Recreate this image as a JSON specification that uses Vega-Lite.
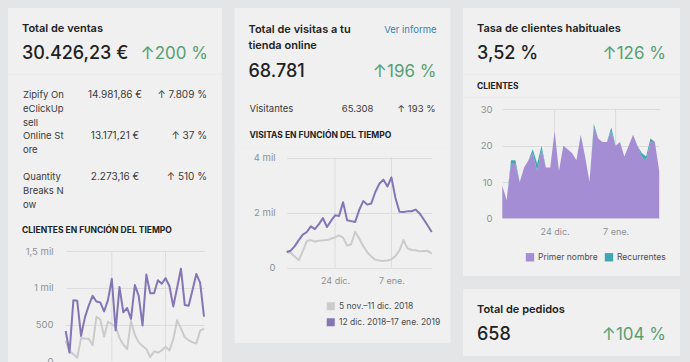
{
  "$schema": "https://vega.github.io/schema/vega-lite/v6.json",
  "background": "#e3e5e7",
  "padding": {"left": 8, "top": 8, "right": 10, "bottom": 0},
  "spacing": 12.5,
  "resolve": {"scale": {"color": "independent"}, "legend": {"color": "independent"}},
  "datasets": {
    "clientes": [
      {"fecha": "2018-12-12T00:00", "actual": 415, "anterior": 280},
      {"fecha": "2018-12-13T00:00", "actual": 120, "anterior": 134},
      {"fecha": "2018-12-14T00:00", "actual": 834, "anterior": 100},
      {"fecha": "2018-12-15T00:00", "actual": 825, "anterior": 50},
      {"fecha": "2018-12-16T00:00", "actual": 348, "anterior": 320},
      {"fecha": "2018-12-17T00:00", "actual": 600, "anterior": 310},
      {"fecha": "2018-12-18T00:00", "actual": 760, "anterior": 310},
      {"fecha": "2018-12-19T00:00", "actual": 892, "anterior": 220},
      {"fecha": "2018-12-20T00:00", "actual": 816, "anterior": 610},
      {"fecha": "2018-12-21T00:00", "actual": 803, "anterior": 570},
      {"fecha": "2018-12-22T00:00", "actual": 682, "anterior": 340},
      {"fecha": "2018-12-23T00:00", "actual": 834, "anterior": 540},
      {"fecha": "2018-12-24T00:00", "actual": 1124, "anterior": 510},
      {"fecha": "2018-12-25T00:00", "actual": 424, "anterior": 470},
      {"fecha": "2018-12-26T00:00", "actual": 1012, "anterior": 320},
      {"fecha": "2018-12-27T00:00", "actual": 669, "anterior": 230},
      {"fecha": "2018-12-28T00:00", "actual": 727, "anterior": 170},
      {"fecha": "2018-12-29T00:00", "actual": 580, "anterior": 550},
      {"fecha": "2018-12-30T00:00", "actual": 1039, "anterior": 360},
      {"fecha": "2018-12-31T00:00", "actual": 892, "anterior": 260},
      {"fecha": "2019-01-01T00:00", "actual": 491, "anterior": 210},
      {"fecha": "2019-01-02T00:00", "actual": 1182, "anterior": 170},
      {"fecha": "2019-01-03T00:00", "actual": 928, "anterior": 60},
      {"fecha": "2019-01-04T00:00", "actual": 928, "anterior": 140},
      {"fecha": "2019-01-05T00:00", "actual": 1106, "anterior": 120},
      {"fecha": "2019-01-06T00:00", "actual": 1057, "anterior": 150},
      {"fecha": "2019-01-07T00:00", "actual": 1133, "anterior": 200},
      {"fecha": "2019-01-08T00:00", "actual": 1026, "anterior": 150},
      {"fecha": "2019-01-09T00:00", "actual": 749, "anterior": 300},
      {"fecha": "2019-01-10T00:00", "actual": 1003, "anterior": 560},
      {"fecha": "2019-01-11T00:00", "actual": 1262, "anterior": 450},
      {"fecha": "2019-01-12T00:00", "actual": 767, "anterior": 330},
      {"fecha": "2019-01-13T00:00", "actual": 758, "anterior": 290},
      {"fecha": "2019-01-14T00:00", "actual": 968, "anterior": 260},
      {"fecha": "2019-01-15T00:00", "actual": 1191, "anterior": 245},
      {"fecha": "2019-01-16T00:00", "actual": 1070, "anterior": 420},
      {"fecha": "2019-01-17T00:00", "actual": 611, "anterior": 446}
    ],
    "visitas": [
      {"fecha": "2018-12-12T00:00", "actual": 567, "anterior": 567},
      {"fecha": "2018-12-13T00:00", "actual": 615, "anterior": 530},
      {"fecha": "2018-12-14T00:00", "actual": 780, "anterior": 400},
      {"fecha": "2018-12-15T00:00", "actual": 1000, "anterior": 270},
      {"fecha": "2018-12-16T00:00", "actual": 1200, "anterior": 600},
      {"fecha": "2018-12-17T00:00", "actual": 1295, "anterior": 970},
      {"fecha": "2018-12-18T00:00", "actual": 1500, "anterior": 1000},
      {"fecha": "2018-12-19T00:00", "actual": 1400, "anterior": 950},
      {"fecha": "2018-12-20T00:00", "actual": 1580, "anterior": 980},
      {"fecha": "2018-12-21T00:00", "actual": 1800, "anterior": 990},
      {"fecha": "2018-12-22T00:00", "actual": 1476, "anterior": 1000},
      {"fecha": "2018-12-23T00:00", "actual": 1700, "anterior": 1050},
      {"fecha": "2018-12-24T00:00", "actual": 1900, "anterior": 1100},
      {"fecha": "2018-12-25T00:00", "actual": 1880, "anterior": 1170},
      {"fecha": "2018-12-26T00:00", "actual": 2380, "anterior": 1090},
      {"fecha": "2018-12-27T00:00", "actual": 1720, "anterior": 800},
      {"fecha": "2018-12-28T00:00", "actual": 1690, "anterior": 851},
      {"fecha": "2018-12-29T00:00", "actual": 1660, "anterior": 1300},
      {"fecha": "2018-12-30T00:00", "actual": 2100, "anterior": 1060},
      {"fecha": "2018-12-31T00:00", "actual": 2420, "anterior": 780},
      {"fecha": "2019-01-01T00:00", "actual": 2290, "anterior": 560},
      {"fecha": "2019-01-02T00:00", "actual": 2330, "anterior": 400},
      {"fecha": "2019-01-03T00:00", "actual": 2750, "anterior": 290},
      {"fecha": "2019-01-04T00:00", "actual": 3050, "anterior": 260},
      {"fecha": "2019-01-05T00:00", "actual": 3200, "anterior": 240},
      {"fecha": "2019-01-06T00:00", "actual": 2950, "anterior": 260},
      {"fecha": "2019-01-07T00:00", "actual": 3280, "anterior": 300},
      {"fecha": "2019-01-08T00:00", "actual": 2530, "anterior": 420},
      {"fecha": "2019-01-09T00:00", "actual": 2030, "anterior": 630},
      {"fecha": "2019-01-10T00:00", "actual": 2020, "anterior": 1000},
      {"fecha": "2019-01-11T00:00", "actual": 2045, "anterior": 700},
      {"fecha": "2019-01-12T00:00", "actual": 2050, "anterior": 640},
      {"fecha": "2019-01-13T00:00", "actual": 2110, "anterior": 630},
      {"fecha": "2019-01-14T00:00", "actual": 1970, "anterior": 590},
      {"fecha": "2019-01-15T00:00", "actual": 1760, "anterior": 600},
      {"fecha": "2019-01-16T00:00", "actual": 1530, "anterior": 610},
      {"fecha": "2019-01-17T00:00", "actual": 1295, "anterior": 510}
    ],
    "habituales": [
      {"fecha": "2018-12-12T00:00", "Primer nombre": 9, "Recurrentes": 0},
      {"fecha": "2018-12-13T00:00", "Primer nombre": 5, "Recurrentes": 0},
      {"fecha": "2018-12-14T00:00", "Primer nombre": 15, "Recurrentes": 1},
      {"fecha": "2018-12-15T00:00", "Primer nombre": 15, "Recurrentes": 1},
      {"fecha": "2018-12-16T00:00", "Primer nombre": 10, "Recurrentes": 0},
      {"fecha": "2018-12-17T00:00", "Primer nombre": 14, "Recurrentes": 0},
      {"fecha": "2018-12-18T00:00", "Primer nombre": 16, "Recurrentes": 0},
      {"fecha": "2018-12-19T00:00", "Primer nombre": 18, "Recurrentes": 1},
      {"fecha": "2018-12-20T00:00", "Primer nombre": 13, "Recurrentes": 2},
      {"fecha": "2018-12-21T00:00", "Primer nombre": 19, "Recurrentes": 1},
      {"fecha": "2018-12-22T00:00", "Primer nombre": 14, "Recurrentes": 0},
      {"fecha": "2018-12-23T00:00", "Primer nombre": 14, "Recurrentes": 0},
      {"fecha": "2018-12-24T00:00", "Primer nombre": 24, "Recurrentes": 0},
      {"fecha": "2018-12-25T00:00", "Primer nombre": 13, "Recurrentes": 0},
      {"fecha": "2018-12-26T00:00", "Primer nombre": 20, "Recurrentes": 0},
      {"fecha": "2018-12-27T00:00", "Primer nombre": 19, "Recurrentes": 0},
      {"fecha": "2018-12-28T00:00", "Primer nombre": 18, "Recurrentes": 0},
      {"fecha": "2018-12-29T00:00", "Primer nombre": 16, "Recurrentes": 0},
      {"fecha": "2018-12-30T00:00", "Primer nombre": 23, "Recurrentes": 0},
      {"fecha": "2018-12-31T00:00", "Primer nombre": 17, "Recurrentes": 0},
      {"fecha": "2019-01-01T00:00", "Primer nombre": 10, "Recurrentes": 0},
      {"fecha": "2019-01-02T00:00", "Primer nombre": 25, "Recurrentes": 1},
      {"fecha": "2019-01-03T00:00", "Primer nombre": 22, "Recurrentes": 0},
      {"fecha": "2019-01-04T00:00", "Primer nombre": 21, "Recurrentes": 0},
      {"fecha": "2019-01-05T00:00", "Primer nombre": 21, "Recurrentes": 0},
      {"fecha": "2019-01-06T00:00", "Primer nombre": 24, "Recurrentes": 1},
      {"fecha": "2019-01-07T00:00", "Primer nombre": 20, "Recurrentes": 0},
      {"fecha": "2019-01-08T00:00", "Primer nombre": 21, "Recurrentes": 0},
      {"fecha": "2019-01-09T00:00", "Primer nombre": 17, "Recurrentes": 0},
      {"fecha": "2019-01-10T00:00", "Primer nombre": 20, "Recurrentes": 0},
      {"fecha": "2019-01-11T00:00", "Primer nombre": 23, "Recurrentes": 0},
      {"fecha": "2019-01-12T00:00", "Primer nombre": 20, "Recurrentes": 0},
      {"fecha": "2019-01-13T00:00", "Primer nombre": 17, "Recurrentes": 1},
      {"fecha": "2019-01-14T00:00", "Primer nombre": 16, "Recurrentes": 1},
      {"fecha": "2019-01-15T00:00", "Primer nombre": 21, "Recurrentes": 1},
      {"fecha": "2019-01-16T00:00", "Primer nombre": 21, "Recurrentes": 0},
      {"fecha": "2019-01-17T00:00", "Primer nombre": 13, "Recurrentes": 0}
    ],
    "marcas": [
      {"fecha": "2018-12-24T00:00"},
      {"fecha": "2019-01-07T00:00"}
    ]
  },
  "hconcat": [
    {
      "vconcat": [
        {
          "width": 214, "height": 66.5,
          "data": {"values": [{"metrica": "Total de ventas", "valor": "30.426,23 €", "cambio": "↑200 %"}]},
          "layer": [
            {"mark": {"type": "text", "align": "left", "baseline": "middle", "fontSize": 11, "fontWeight": 600, "color": "#202223"},
             "encoding": {
               "x": {"datum": "izq", "type": "nominal", "scale": {"type": "point", "domain": ["izq", "der"], "padding": 0.0753}, "axis": null},
               "y": {"datum": "titulo", "type": "nominal", "scale": {"type": "point", "domain": ["titulo", "kpi"], "padding": 0.857}, "axis": null},
               "text": {"field": "metrica"}}},
            {"mark": {"type": "text", "align": "left", "baseline": "middle", "fontSize": 18, "fontWeight": 500, "color": "#202223"},
             "encoding": {
               "x": {"datum": "izq", "type": "nominal", "scale": {"type": "point", "domain": ["izq", "der"], "padding": 0.0753}, "axis": null},
               "y": {"datum": "kpi", "type": "nominal", "scale": {"type": "point", "domain": ["titulo", "kpi"], "padding": 0.857}, "axis": null},
               "text": {"field": "valor"}}},
            {"mark": {"type": "text", "align": "right", "baseline": "middle", "fontSize": 17, "color": "#56a072"},
             "encoding": {
               "x": {"datum": "der", "type": "nominal", "scale": {"type": "point", "domain": ["izq", "der"], "padding": 0.0753}, "axis": null},
               "y": {"datum": "kpi", "type": "nominal", "scale": {"type": "point", "domain": ["titulo", "kpi"], "padding": 0.857}, "axis": null},
               "text": {"field": "cambio"}}}
          ]
        },
        {
          "width": 214, "height": 145,
          "data": {"values": [
            {"canal": "Zipify On\neClickUp\nsell", "ventas": "14.981,86 €", "cambio": "↑ 7.809 %"},
            {"canal": "Online St\nore", "ventas": "13.171,21 €", "cambio": "↑ 37 %"},
            {"canal": "Quantity\nBreaks N\now", "ventas": "2.273,16 €", "cambio": "↑ 510 %"}
          ]},
          "encoding": {
            "y": {"field": "canal", "type": "nominal", "sort": null, "bandPosition": 0, "scale": {"type": "band", "paddingInner": 0.2043, "paddingOuter": 0.3555}, "axis": null}
          },
          "layer": [
            {"mark": {"type": "text", "align": "left", "baseline": "top", "fontSize": 9.5, "lineHeight": 14, "lineBreak": "\n", "color": "#3a3a3a"},
             "encoding": {
               "x": {"datum": "canal", "type": "nominal", "scale": {"type": "point", "domain": ["canal", "ventas", "cambio"], "padding": 0.163}, "axis": null},
               "text": {"field": "canal"}}},
            {"mark": {"type": "text", "align": "center", "baseline": "top", "fontSize": 10, "color": "#3a3a3a"},
             "encoding": {
               "x": {"datum": "ventas", "type": "nominal", "scale": {"type": "point", "domain": ["canal", "ventas", "cambio"], "padding": 0.163}, "axis": null},
               "text": {"field": "ventas"}}},
            {"mark": {"type": "text", "align": "right", "baseline": "top", "fontSize": 10, "color": "#3a3a3a"},
             "encoding": {
               "x": {"datum": "cambio", "type": "nominal", "scale": {"type": "point", "domain": ["canal", "ventas", "cambio"], "padding": 0.163}, "axis": null},
               "text": {"field": "cambio"}}}
          ]
        },
        {
          "width": 214, "height": 19,
          "data": {"values": [{"seccion": "CLIENTES EN FUNCIÓN DEL TIEMPO"}]},
          "mark": {"type": "text", "align": "left", "baseline": "middle", "fontSize": 8.5, "fontWeight": 700, "color": "#202223"},
          "encoding": {
            "x": {"datum": "izq", "type": "nominal", "scale": {"type": "point", "domain": ["izq", "der"], "padding": 0.0753}, "axis": null},
            "text": {"field": "seccion"}
          }
        },
        {
          "width": 214, "height": 123.5,
          "layer": [
            {"data": {"name": "marcas"},
             "mark": {"type": "rule", "color": "#dcdcdc", "strokeWidth": 1},
             "encoding": {
               "x": {"field": "fecha", "type": "temporal", "scale": {"domain": [{"year": 2018, "month": 12, "date": 12}, {"year": 2019, "month": 1, "date": 17}], "range": [57.7, 196]}, "axis": null},
               "y": {"datum": 0, "type": "quantitative", "scale": {"domain": [0, 1500], "range": [122.5, 12.2], "nice": false}},
               "y2": {"datum": 1500}
             }},
            {"data": {"name": "clientes"},
             "transform": [{"fold": ["anterior", "actual"], "as": ["periodo", "clientes"]}],
             "mark": {"type": "line", "strokeJoin": "round"},
             "encoding": {
               "x": {"field": "fecha", "type": "temporal", "scale": {"domain": [{"year": 2018, "month": 12, "date": 12}, {"year": 2019, "month": 1, "date": 17}], "range": [57.7, 196]}, "axis": null},
               "y": {"field": "clientes", "type": "quantitative", "scale": {"domain": [0, 1500], "range": [122.5, 12.2], "nice": false},
                     "axis": {"values": [0, 500, 1000, 1500], "offset": -45, "grid": true, "title": null,
                              "labelExpr": "datum.value >= 1000 ? replace(format(datum.value / 1000, '~g'), '.', ',') + ' mil' : format(datum.value, 'd')"}},
               "color": {"field": "periodo", "type": "nominal", "scale": {"domain": ["anterior", "actual"], "range": ["#cbcbcb", "#8475b5"]}, "legend": null},
               "strokeWidth": {"value": 2}
             }}
          ]
        }
      ],
      "spacing": 0,
      "bounds": "flush",
      "resolve": {"scale": {"color": "independent"}, "legend": {"color": "independent"}}
    },
    {
      "vconcat": [
        {
          "vconcat": [
            {
              "width": 216, "height": 94,
              "data": {"values": [{"metrica": "Total de visitas a tu\ntienda online", "enlace": "Ver informe", "valor": "68.781", "cambio": "↑196 %"}]},
              "layer": [
                {"mark": {"type": "text", "align": "left", "baseline": "alphabetic", "fontSize": 11, "fontWeight": 600, "lineHeight": 16, "lineBreak": "\n", "color": "#202223"},
                 "encoding": {
                   "x": {"datum": "izq", "type": "nominal", "scale": {"type": "point", "domain": ["izq", "der"], "padding": 0.0745}, "axis": null},
                   "y": {"datum": "titulo", "type": "nominal", "scale": {"type": "point", "domain": ["titulo", "kpi"], "padding": 0.583}, "axis": null},
                   "text": {"field": "metrica"}}},
                {"mark": {"type": "text", "align": "right", "baseline": "alphabetic", "fontSize": 9.5, "color": "#3b7fb6"},
                 "encoding": {
                   "x": {"datum": "der", "type": "nominal", "scale": {"type": "point", "domain": ["izq", "der"], "padding": 0.0745}, "axis": null},
                   "y": {"datum": "titulo", "type": "nominal", "scale": {"type": "point", "domain": ["titulo", "kpi"], "padding": 0.583}, "axis": null},
                   "text": {"field": "enlace"}}},
                {"mark": {"type": "text", "align": "left", "baseline": "alphabetic", "fontSize": 18, "fontWeight": 500, "color": "#202223"},
                 "encoding": {
                   "x": {"datum": "izq", "type": "nominal", "scale": {"type": "point", "domain": ["izq", "der"], "padding": 0.0745}, "axis": null},
                   "y": {"datum": "kpi", "type": "nominal", "scale": {"type": "point", "domain": ["titulo", "kpi"], "padding": 0.583}, "axis": null},
                   "text": {"field": "valor"}}},
                {"mark": {"type": "text", "align": "right", "baseline": "alphabetic", "fontSize": 17, "color": "#56a072"},
                 "encoding": {
                   "x": {"datum": "der", "type": "nominal", "scale": {"type": "point", "domain": ["izq", "der"], "padding": 0.0745}, "axis": null},
                   "y": {"datum": "kpi", "type": "nominal", "scale": {"type": "point", "domain": ["titulo", "kpi"], "padding": 0.583}, "axis": null},
                   "text": {"field": "cambio"}}}
              ]
            },
            {
              "width": 216, "height": 45.7,
              "data": {"values": [{"metrica": "Visitantes", "valor": "65.308", "cambio": "↑ 193 %", "seccion": "VISITAS EN FUNCIÓN DEL TIEMPO"}]},
              "layer": [
                {"mark": {"type": "text", "align": "left", "baseline": "alphabetic", "fontSize": 9.5, "color": "#3a3a3a"},
                 "encoding": {
                   "x": {"datum": "etiqueta", "type": "nominal", "scale": {"type": "point", "domain": ["etiqueta", "espacio", "valor", "cambio"], "padding": 0.242}, "axis": null},
                   "y": {"datum": "fila", "type": "nominal", "scale": {"type": "point", "domain": ["fila", "seccion"], "padding": 0.369}, "axis": null},
                   "text": {"field": "metrica"}}},
                {"mark": {"type": "text", "align": "right", "baseline": "alphabetic", "fontSize": 9.5, "color": "#3a3a3a"},
                 "encoding": {
                   "x": {"datum": "valor", "type": "nominal", "scale": {"type": "point", "domain": ["etiqueta", "espacio", "valor", "cambio"], "padding": 0.242}, "axis": null},
                   "y": {"datum": "fila", "type": "nominal", "scale": {"type": "point", "domain": ["fila", "seccion"], "padding": 0.369}, "axis": null},
                   "text": {"field": "valor"}}},
                {"mark": {"type": "text", "align": "right", "baseline": "alphabetic", "fontSize": 9.5, "color": "#3a3a3a"},
                 "encoding": {
                   "x": {"datum": "cambio", "type": "nominal", "scale": {"type": "point", "domain": ["etiqueta", "espacio", "valor", "cambio"], "padding": 0.242}, "axis": null},
                   "y": {"datum": "fila", "type": "nominal", "scale": {"type": "point", "domain": ["fila", "seccion"], "padding": 0.369}, "axis": null},
                   "text": {"field": "cambio"}}},
                {"mark": {"type": "text", "align": "left", "baseline": "alphabetic", "fontSize": 8.5, "fontWeight": 700, "color": "#202223"},
                 "encoding": {
                   "x": {"datum": "etiqueta", "type": "nominal", "scale": {"type": "point", "domain": ["etiqueta", "espacio", "valor", "cambio"], "padding": 0.242}, "axis": null},
                   "y": {"datum": "seccion", "type": "nominal", "scale": {"type": "point", "domain": ["fila", "seccion"], "padding": 0.369}, "axis": null},
                   "text": {"field": "seccion"}}}
              ]
            },
            {
              "width": 216, "height": 195.3,
              "layer": [
                {"data": {"name": "marcas"},
                 "mark": {"type": "rule", "color": "#dcdcdc", "strokeWidth": 1},
                 "encoding": {
                   "x": {"field": "fecha", "type": "temporal", "scale": {"domain": [{"year": 2018, "month": 12, "date": 12}, {"year": 2019, "month": 1, "date": 17}], "range": [52.2, 197.2]}},
                   "y": {"datum": 0, "type": "quantitative", "scale": {"domain": [0, 4000], "range": [119.6, 9.6], "nice": false}},
                   "y2": {"datum": 4000}
                 }},
                {"data": {"name": "visitas"},
                 "transform": [{"fold": ["anterior", "actual"], "as": ["periodo", "visitas"]}],
                 "mark": {"type": "line", "strokeJoin": "round"},
                 "encoding": {
                   "x": {"field": "fecha", "type": "temporal", "scale": {"domain": [{"year": 2018, "month": 12, "date": 12}, {"year": 2019, "month": 1, "date": 17}], "range": [52.2, 197.2]},
                         "axis": {"values": [{"year": 2018, "month": 12, "date": 24}, {"year": 2019, "month": 1, "date": 7}], "offset": -75.7, "labelPadding": 8.5, "labelFontSize": 9, "grid": false, "title": null,
                                  "labelExpr": "date(datum.value) + ' ' + ['ene.','feb.','mar.','abr.','may.','jun.','jul.','ago.','sep.','oct.','nov.','dic.'][month(datum.value)]"}},
                   "y": {"field": "visitas", "type": "quantitative", "scale": {"domain": [0, 4000], "range": [119.6, 9.6], "nice": false},
                         "axis": {"values": [0, 2000, 4000], "offset": -40.5, "grid": true, "title": null,
                                  "labelExpr": "datum.value >= 1000 ? replace(format(datum.value / 1000, '~g'), '.', ',') + ' mil' : format(datum.value, 'd')"}},
                   "color": {"field": "periodo", "type": "nominal", "scale": {"domain": ["anterior", "actual"], "range": ["#cbcbcb", "#8475b5"]},
                             "legend": {"orient": "bottom-right", "offset": 10, "direction": "vertical", "title": null, "symbolType": "square", "symbolSize": 16, "symbolStrokeWidth": 4,
                                        "labelFontSize": 8.5, "labelColor": "#4a4d50", "rowPadding": -5, "labelOffset": 4, "padding": 0, "labelLimit": 250,
                                        "labelExpr": "datum.label == 'anterior' ? '5 nov.–11 dic. 2018' : '12 dic. 2018–17 ene. 2019'"}},
                   "strokeWidth": {"value": 2}
                 }}
              ]
            }
          ],
          "spacing": 0,
          "bounds": "flush",
          "resolve": {"scale": {"color": "independent"}, "legend": {"color": "independent"}}
        },
        {
          "width": 216, "height": 10,
          "data": {"values": []},
          "mark": "text",
          "encoding": {}
        }
      ],
      "spacing": 9,
      "resolve": {"scale": {"color": "independent"}, "legend": {"color": "independent"}}
    },
    {
      "vconcat": [
        {
          "vconcat": [
            {
              "width": 217, "height": 66.5,
              "data": {"values": [{"metrica": "Tasa de clientes habituales", "valor": "3,52 %", "cambio": "↑126 %"}]},
              "layer": [
                {"mark": {"type": "text", "align": "left", "baseline": "middle", "fontSize": 11, "fontWeight": 600, "color": "#202223"},
                 "encoding": {
                   "x": {"datum": "izq", "type": "nominal", "scale": {"type": "point", "domain": ["izq", "der"], "padding": 0.0741}, "axis": null},
                   "y": {"datum": "titulo", "type": "nominal", "scale": {"type": "point", "domain": ["titulo", "kpi"], "padding": 0.857}, "axis": null},
                   "text": {"field": "metrica"}}},
                {"mark": {"type": "text", "align": "left", "baseline": "middle", "fontSize": 18, "fontWeight": 500, "color": "#202223"},
                 "encoding": {
                   "x": {"datum": "izq", "type": "nominal", "scale": {"type": "point", "domain": ["izq", "der"], "padding": 0.0741}, "axis": null},
                   "y": {"datum": "kpi", "type": "nominal", "scale": {"type": "point", "domain": ["titulo", "kpi"], "padding": 0.857}, "axis": null},
                   "text": {"field": "valor"}}},
                {"mark": {"type": "text", "align": "right", "baseline": "middle", "fontSize": 17, "color": "#56a072"},
                 "encoding": {
                   "x": {"datum": "der", "type": "nominal", "scale": {"type": "point", "domain": ["izq", "der"], "padding": 0.0741}, "axis": null},
                   "y": {"datum": "kpi", "type": "nominal", "scale": {"type": "point", "domain": ["titulo", "kpi"], "padding": 0.857}, "axis": null},
                   "text": {"field": "cambio"}}}
              ]
            },
            {
              "width": 217, "height": 22.5,
              "data": {"values": [{"seccion": "CLIENTES"}]},
              "mark": {"type": "text", "align": "left", "baseline": "middle", "fontSize": 8.5, "fontWeight": 700, "color": "#202223"},
              "encoding": {
                "x": {"datum": "izq", "type": "nominal", "scale": {"type": "point", "domain": ["izq", "der"], "padding": 0.0741}, "axis": null},
                "text": {"field": "seccion"}
              }
            },
            {
              "width": 217, "height": 178,
              "layer": [
                {"data": {"name": "marcas"},
                 "mark": {"type": "rule", "color": "#dcdcdc", "strokeWidth": 1},
                 "encoding": {
                   "x": {"field": "fecha", "type": "temporal", "scale": {"domain": [{"year": 2018, "month": 12, "date": 12}, {"year": 2019, "month": 1, "date": 17}], "range": [39.3, 196.2]}},
                   "y": {"datum": 0, "type": "quantitative", "scale": {"domain": [0, 30], "range": [120.3, 11.4], "nice": false}},
                   "y2": {"datum": 30}
                 }},
                {"data": {"name": "habituales"},
                 "transform": [{"fold": ["Primer nombre", "Recurrentes"], "as": ["tipo", "clientes"]}],
                 "mark": {"type": "area", "interpolate": "linear"},
                 "encoding": {
                   "x": {"field": "fecha", "type": "temporal", "scale": {"domain": [{"year": 2018, "month": 12, "date": 12}, {"year": 2019, "month": 1, "date": 17}], "range": [39.3, 196.2]},
                         "axis": {"values": [{"year": 2018, "month": 12, "date": 24}, {"year": 2019, "month": 1, "date": 7}], "offset": -57.7, "labelPadding": 9.5, "labelFontSize": 9, "grid": false, "title": null,
                                  "labelExpr": "date(datum.value) + ' ' + ['ene.','feb.','mar.','abr.','may.','jun.','jul.','ago.','sep.','oct.','nov.','dic.'][month(datum.value)]"}},
                   "y": {"field": "clientes", "type": "quantitative", "stack": "zero", "scale": {"domain": [0, 30], "range": [120.3, 11.4], "nice": false},
                         "axis": {"values": [0, 10, 20, 30], "offset": -29, "grid": true, "title": null}},
                   "color": {"field": "tipo", "type": "nominal", "scale": {"domain": ["Primer nombre", "Recurrentes"], "range": ["#a58dd4", "#3ea7b3"]},
                             "legend": {"orient": "bottom-right", "offset": 14, "direction": "horizontal", "title": null, "symbolType": "square", "symbolSize": 70,
                                        "labelFontSize": 8.5, "labelColor": "#4a4d50", "columnPadding": 6, "labelOffset": 3, "padding": 0}},
                   "order": {"field": "tipo", "sort": "ascending"}
                 }}
              ]
            }
          ],
          "spacing": 0,
          "bounds": "flush",
          "resolve": {"scale": {"color": "independent"}, "legend": {"color": "independent"}}
        },
        {
          "vconcat": [
            {
              "width": 217, "height": 67,
              "data": {"values": [{"metrica": "Total de pedidos", "valor": "658", "cambio": "↑104 %"}]},
              "layer": [
                {"mark": {"type": "text", "align": "left", "baseline": "middle", "fontSize": 11, "fontWeight": 600, "color": "#202223"},
                 "encoding": {
                   "x": {"datum": "izq", "type": "nominal", "scale": {"type": "point", "domain": ["izq", "der"], "padding": 0.0741}, "axis": null},
                   "y": {"datum": "titulo", "type": "nominal", "scale": {"type": "point", "domain": ["titulo", "kpi"], "padding": 0.873}, "axis": null},
                   "text": {"field": "metrica"}}},
                {"mark": {"type": "text", "align": "left", "baseline": "middle", "fontSize": 18, "fontWeight": 500, "color": "#202223"},
                 "encoding": {
                   "x": {"datum": "izq", "type": "nominal", "scale": {"type": "point", "domain": ["izq", "der"], "padding": 0.0741}, "axis": null},
                   "y": {"datum": "kpi", "type": "nominal", "scale": {"type": "point", "domain": ["titulo", "kpi"], "padding": 0.873}, "axis": null},
                   "text": {"field": "valor"}}},
                {"mark": {"type": "text", "align": "right", "baseline": "middle", "fontSize": 17, "color": "#56a072"},
                 "encoding": {
                   "x": {"datum": "der", "type": "nominal", "scale": {"type": "point", "domain": ["izq", "der"], "padding": 0.0741}, "axis": null},
                   "y": {"datum": "kpi", "type": "nominal", "scale": {"type": "point", "domain": ["titulo", "kpi"], "padding": 0.873}, "axis": null},
                   "text": {"field": "cambio"}}}
              ]
            },
            {
              "width": 217, "height": 7,
              "data": {"values": []},
              "mark": "text",
              "encoding": {}
            }
          ],
          "spacing": 0,
          "bounds": "flush"
        }
      ],
      "spacing": 13,
      "resolve": {"scale": {"color": "independent"}, "legend": {"color": "independent"}}
    }
  ],
  "config": {
    "view": {"fill": "#f0f0f0", "stroke": null},
    "font": "Inter",
    "axis": {"labelFont": "Inter", "labelFontSize": 9.5, "labelColor": "#8c9196", "gridColor": "#dcdcdc", "gridWidth": 1, "ticks": false, "tickSize": 0, "domain": false, "labelPadding": 0, "labelFlush": false},
    "legend": {"labelFont": "Inter"}
  }
}
